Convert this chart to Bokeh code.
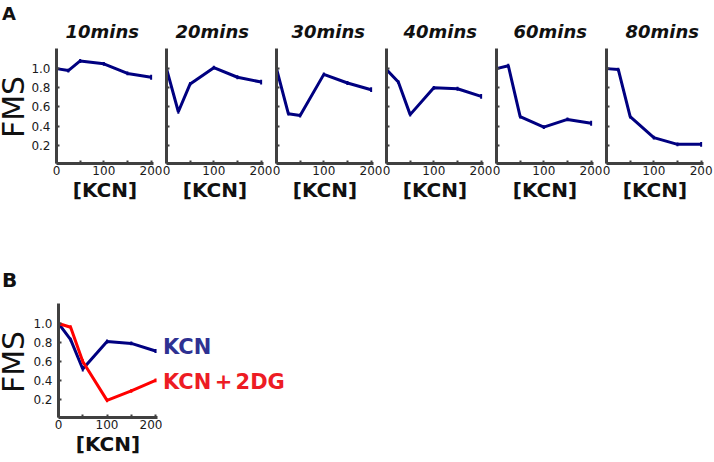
from bokeh.plotting import figure
from bokeh.models import FixedTicker, PrintfTickFormatter, CustomJSTickFormatter, Range1d, Div
from bokeh.layouts import row, column
from bokeh.embed import file_html
from bokeh.resources import INLINE

# ---------------- data ----------------
kcn_dose = [0, 25, 50, 100, 150, 200]
x_ticks = [0, 100, 200]
x_minor_ticks = [50, 150]
y_ticks = [0.2, 0.4, 0.6, 0.8, 1.0]
time_labels = ["10mins", "20mins", "30mins", "40mins", "60mins", "80mins"]
fms_10min = [1.00, 0.98, 1.08, 1.05, 0.95, 0.91]
fms_20min = [1.00, 0.55, 0.84, 1.01, 0.91, 0.86]
fms_30min = [1.00, 0.53, 0.51, 0.94, 0.85, 0.78]
fms_40min = [0.99, 0.86, 0.52, 0.80, 0.79, 0.71]
fms_60min = [1.00, 1.03, 0.50, 0.39, 0.47, 0.43]
fms_80min = [1.00, 0.99, 0.50, 0.28, 0.21, 0.21]
fms_sem = [0.015, 0.02, 0.02, 0.02, 0.02, 0.025]
b_kcn = [1.00, 0.83, 0.52, 0.81, 0.79, 0.71]
b_kcn_2dg = [1.00, 0.96, 0.60, 0.19, 0.29, 0.40]
b_sem = [0.015, 0.02, 0.025, 0.02, 0.02, 0.02]
legend_labels = ["KCN", "KCN + 2DG"]
panel_labels = ["A", "B"]
y_title = "FMS"
x_title = "[KCN]"

series_A = [fms_10min, fms_20min, fms_30min, fms_40min, fms_60min, fms_80min]

# ---------------- style ----------------
NAVY = "#000080"
RED = "#ff0000"
KCN_TXT = "#2e3192"
RED_TXT = "#ed1c24"
AX = "#404040"
FONT = "DejaVu Sans"
title_left = [9, 9, 15, 17, 17, 19]


def make_fig(fw, fh, left, right, top, bottom, xmax):
    p = figure(frame_width=fw, frame_height=fh,
               x_range=Range1d(0, xmax), y_range=Range1d(0.01, 1.21),
               min_border_left=left, min_border_right=right,
               min_border_top=top, min_border_bottom=bottom,
               output_backend="svg", toolbar_location=None)
    p.outline_line_color = None
    p.xgrid.visible = False
    p.ygrid.visible = False
    p.background_fill_color = "white"
    p.border_fill_color = "white"
    xa, ya = p.xaxis[0], p.yaxis[0]
    for ax in (xa, ya):
        ax.axis_line_color = AX
        ax.axis_line_width = 3
        ax.major_tick_line_color = AX
        ax.major_tick_line_width = 2
        ax.major_tick_in = 3
        ax.major_tick_out = 0
        ax.minor_tick_line_color = AX
        ax.minor_tick_line_width = 2
        ax.minor_tick_in = 3
        ax.minor_tick_out = 0
        ax.major_label_text_font = FONT
        ax.major_label_text_font_size = "12px"
        ax.major_label_text_color = "#1a1a1a"
    xa.ticker = FixedTicker(ticks=x_ticks, minor_ticks=x_minor_ticks)
    xa.major_label_standoff = 2
    xa.axis_label = x_title
    xa.axis_label_text_font = FONT
    xa.axis_label_text_font_style = "bold"
    xa.axis_label_text_font_size = "20px"
    xa.axis_label_text_color = "#111111"
    xa.axis_label_standoff = 0
    ya.ticker = FixedTicker(ticks=y_ticks)
    ya.formatter = PrintfTickFormatter(format="%.1f")
    ya.minor_tick_line_color = None
    ya.major_label_standoff = 6
    return p


def hide_y_labels(p):
    ya = p.yaxis[0]
    ya.formatter = CustomJSTickFormatter(code="return ''")
    ya.major_label_text_color = None
    ya.major_label_standoff = 0


def add_series(p, ys, err, color):
    lo = [v - e for v, e in zip(ys, err)]
    hi = [v + e for v, e in zip(ys, err)]
    p.line(kcn_dose, ys, line_color=color, line_width=3)
    p.segment(x0=kcn_dose, y0=lo, x1=kcn_dose, y1=hi, line_color=color, line_width=2)


def side_div(width, height, letter, letter_top, letter_size, fms_cy):
    bx = 24.4
    html = (
        f'<div style="position:relative;width:{width}px;height:{height}px;'
        f"font-family:'{FONT}';color:#111111\">"
        f'<div style="position:absolute;left:2px;top:{letter_top}px;font-weight:bold;'
        f'font-size:{letter_size}px;line-height:{letter_size}px">{letter}</div>'
        f'<svg style="position:absolute;left:0;top:0" width="{width}" height="{height}">'
        f'<text x="{bx}" y="{fms_cy}" transform="rotate(-90 {bx} {fms_cy})" text-anchor="middle" '
        f'font-family="{FONT}" font-size="30" fill="#111111">{y_title}</text></svg>'
        f'</div>'
    )
    return Div(text=html, width=width, height=height, margin=0)


# ---------------- panel A ----------------
FW, FH = 97, 115
TOP_H = 48 + FH + 45
tops = [side_div(28, TOP_H, panel_labels[0], 5, 18, 107)]
for i, (ys, name) in enumerate(zip(series_A, time_labels)):
    first = i == 0
    last = i == len(series_A) - 1
    p = make_fig(FW, FH, 28 if first else 4, 10 if last else 9, 48, 45, 205)
    if not first:
        hide_y_labels(p)
    p.title.text = name
    p.title.align = "left"
    p.title.offset = title_left[i]
    p.title.text_font = FONT
    p.title.text_font_size = "18px"
    p.title.text_font_style = "bold italic"
    p.title.text_color = "#111111"
    p.title.standoff = 14
    add_series(p, ys, fms_sem, NAVY)
    tops.append(p)

# ---------------- panel B ----------------
pb = make_fig(99, 114, 30, 5, 95, 43, 204)
add_series(pb, b_kcn, b_sem, NAVY)
add_series(pb, b_kcn_2dg, b_sem, RED)
B_H = 95 + 114 + 43
left_b = side_div(28, B_H, panel_labels[1], 62, 20, 154)
legend_html = (
    f'<div style="position:relative;width:150px;height:{B_H}px;font-family:\'{FONT}\';'
    f'font-weight:bold;font-size:21px;line-height:21px">'
    f'<div style="position:absolute;left:1px;top:129px;color:{KCN_TXT};white-space:nowrap">{legend_labels[0]}</div>'
    f'<div style="position:absolute;left:1px;top:164px;color:{RED_TXT};white-space:nowrap;'
    f'word-spacing:-4px">{legend_labels[1]}</div>'
    f'</div>'
)
legend_div = Div(text=legend_html, width=150, height=B_H, margin=0)

layout = column(row(*tops), row(left_b, pb, legend_div))
open("out.html", "w").write(file_html(layout, INLINE))
